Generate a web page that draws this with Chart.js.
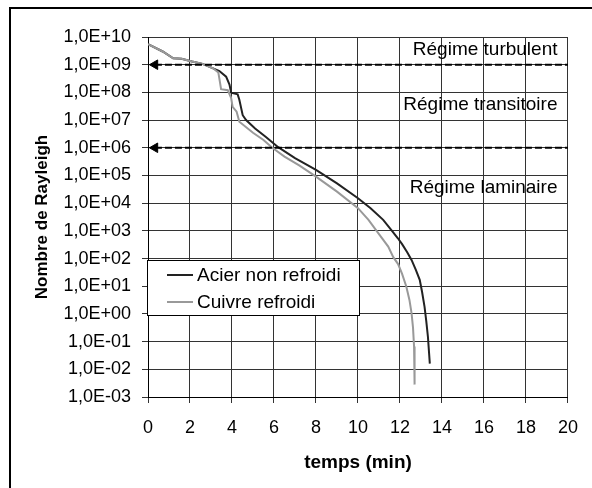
<!DOCTYPE html>
<html>
<head>
<meta charset="utf-8">
<script src="https://cdn.jsdelivr.net/npm/chart.js@4.4.1/dist/chart.umd.min.js"></script>
<style>
  body { margin: 0; background: #fff; }
  #wrap { position: relative; width: 592px; height: 488px; overflow: hidden; }
  #frame { position: absolute; left: 9px; top: 7px; width: 700px; height: 600px;
           border-top: 2px solid #000; border-left: 2px solid #000; pointer-events: none; }
  canvas { position: absolute; left: 0; top: 0; }
</style>
</head>
<body>
<div id="wrap">
  <canvas id="chart" width="592" height="488"></canvas>
  <div id="frame"></div>
</div>
<script>
// Data
const acierTemps = [0, 0.7, 1.2, 1.6, 2.1, 2.6, 3.1, 3.4, 3.72, 3.88, 3.96, 4.27, 4.35, 4.51, 4.67,
  5.1, 5.6, 6.2, 7.0, 8.0, 9.0, 10.0, 10.6, 11.2, 11.6, 11.9, 12.1, 12.35, 12.55, 12.75, 12.94,
  13.05, 13.17, 13.25, 13.33, 13.42];
const acierRa = [5.5e9, 3.0e9, 1.7e9, 1.65e9, 1.3e9, 1.07e9, 7.4e8, 5.9e8, 3.7e8, 1.9e8, 9.8e7, 8.5e7, 5.4e7, 1.5e7, 1.0e7,
  5.0e6, 2.5e6, 1.05e6, 4.2e5, 1.6e5, 5.2e4, 1.5e4, 6.6e3, 2.5e3, 1.05e3, 540, 330, 166, 89, 40, 17,
  6.3, 1.8, 0.56, 0.15, 0.016];

const cuivreTemps = [0, 0.7, 1.2, 1.6, 2.1, 2.6, 3.1, 3.35, 3.42, 3.48, 3.8, 3.96, 4.03, 4.22, 4.35,
  5.0, 5.5, 5.92, 6.5, 7.2, 8.0, 9.0, 10.0, 10.5, 11.0, 11.44, 11.68, 11.91, 12.1, 12.3, 12.45,
  12.55, 12.62, 12.67, 12.69, 12.7];
const cuivreRa = [5.5e9, 3.0e9, 1.7e9, 1.65e9, 1.3e9, 1.07e9, 7.4e8, 5.2e8, 2.5e8, 1.3e8, 1.2e8, 6.2e7, 3.0e7, 2.0e7, 8.7e6,
  3.5e6, 1.9e6, 1.0e6, 4.8e5, 2.3e5, 9.1e4, 2.6e4, 6.6e3, 2.5e3, 760, 270, 112, 63, 28, 9.8, 3.2,
  1.07, 0.32, 0.066, 0.016, 0.0028];

const seriesNames = ['Acier non refroidi', 'Cuivre refroidi'];
const seriesColors = ['#222222', '#999999'];

// Regime limits (dashed lines) and labels
const thresholds = [1e9, 1e6];
const regimeLabels = ['Régime turbulent', 'Régime transitoire', 'Régime laminaire'];
const regimeLevels = [3.4e9, 3.5e7, 3.5e4];

const yTicks = [1e-3, 1e-2, 1e-1, 1e0, 1e1, 1e2, 1e3, 1e4, 1e5, 1e6, 1e7, 1e8, 1e9, 1e10];
const xMin = 0, xMax = 20, xStep = 2;

const FONT = "'Liberation Sans', Arial, sans-serif";

function toPoints(xs, ys) {
  return xs.map((x, i) => ({ x: x, y: ys[i] }));
}

// Excel style label: 1,0E+09
function sciLabel(v) {
  const e = Math.round(Math.log10(v));
  const sign = e < 0 ? '-' : '+';
  return '1,0E' + sign + String(Math.abs(e)).padStart(2, '0');
}

// lower order is drawn on top: grey copper curve lies over the steel one
const datasets = [
  { label: seriesNames[0], data: toPoints(acierTemps, acierRa), borderColor: seriesColors[0], borderWidth: 2, order: 2 },
  { label: seriesNames[1], data: toPoints(cuivreTemps, cuivreRa), borderColor: seriesColors[1], borderWidth: 2, order: 1 }
];
thresholds.forEach(t => {
  datasets.push({
    label: 'seuil',
    data: [{ x: 0.33, y: t }, { x: xMax, y: t }],
    borderColor: '#000',
    borderWidth: 2,
    borderDash: [7, 3],
    pointStyle: 'triangle',
    pointRotation: -90,
    pointRadius: [5.5, 0],
    pointBackgroundColor: '#000',
    pointBorderColor: '#000',
    pointBorderWidth: 1,
    order: 0
  });
});

// Legend box and regime labels drawn inside the plot
const overlayPlugin = {
  id: 'overlay',
  afterDatasetsDraw(chart) {
    const ctx = chart.ctx;
    const xs = chart.scales.x, ys = chart.scales.y;
    ctx.save();
    ctx.font = '19px ' + FONT;
    ctx.fillStyle = '#000';
    ctx.textAlign = 'right';
    ctx.textBaseline = 'middle';
    regimeLabels.forEach((txt, i) => {
      ctx.fillText(txt, xs.getPixelForValue(19.5), ys.getPixelForValue(regimeLevels[i]));
    });

    const bx = chart.chartArea.left - 0.5, by = 260.5, bw = 212, bh = 55;
    ctx.fillStyle = '#fff';
    ctx.fillRect(bx, by, bw, bh);
    ctx.strokeStyle = '#000';
    ctx.lineWidth = 1;
    ctx.strokeRect(bx, by, bw, bh);
    ctx.textAlign = 'left';
    seriesNames.forEach((name, i) => {
      const yy = 275 + i * 27;
      ctx.strokeStyle = seriesColors[i];
      ctx.lineWidth = 2;
      ctx.beginPath();
      ctx.moveTo(167, yy);
      ctx.lineTo(193, yy);
      ctx.stroke();
      ctx.fillStyle = '#000';
      ctx.fillText(name, 197, yy + 1);
    });
    ctx.restore();
  }
};

const chart = new Chart(document.getElementById('chart'), {
  type: 'line',
  data: { datasets: datasets },
  plugins: [overlayPlugin],
  options: {
    responsive: false,
    animation: false,
    layout: { padding: { left: 0, top: 37, right: 21, bottom: 0 } },
    elements: { line: { tension: 0, fill: false }, point: { radius: 0 } },
    plugins: { legend: { display: false }, tooltip: { enabled: false } },
    scales: {
      x: {
        type: 'linear',
        min: xMin,
        max: xMax,
        afterFit(scale) { scale.height = 91; },
        ticks: { stepSize: xStep, color: '#000', padding: 14, font: { family: FONT, size: 18 } },
        grid: { color: '#333', lineWidth: 1, tickLength: 6 },
        border: { color: '#000', width: 1 },
        title: { display: true, text: 'temps (min)', color: '#000',
                 font: { family: FONT, size: 19, weight: 'bold' }, padding: { top: 0, bottom: 13.6 } }
      },
      y: {
        type: 'logarithmic',
        min: yTicks[0],
        max: yTicks[yTicks.length - 1],
        afterFit(scale) { scale.width = 148; },
        afterBuildTicks(scale) { scale.ticks = yTicks.map(v => ({ value: v })); },
        ticks: { color: '#000', padding: 11, font: { family: FONT, size: 18 },
                 callback: v => sciLabel(v) },
        grid: { color: '#333', lineWidth: 1, tickLength: 6 },
        border: { color: '#000', width: 1 },
        title: { display: true, text: 'Nombre de Rayleigh', color: '#000',
                 font: { family: FONT, size: 17, weight: 'bold' }, padding: { top: 32, bottom: 0 } }
      }
    }
  }
});
</script>
</body>
</html>
